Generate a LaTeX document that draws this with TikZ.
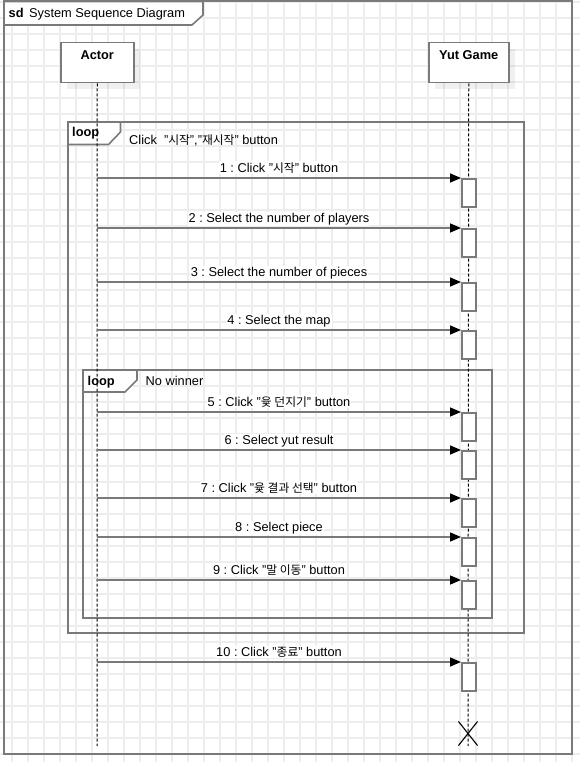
\documentclass[tikz,border=0pt]{standalone}
\usepackage{fontspec}
\setmainfont{Liberation Sans}
\newfontfamily\krfont[Scale=0.92]{Noto Sans CJK KR}
\newcommand{\hg}[1]{{\krfont #1}}
\usetikzlibrary{positioning, arrows.meta, calc, shapes.misc, shadows}
\definecolor{linegray}{HTML}{7A7A7A}
\definecolor{gridgray}{HTML}{EDEDED}
\frenchspacing

\begin{document}
\begin{tikzpicture}[x=1pt, y=-1pt, font=\fontsize{12.8}{15}\selectfont,
    > = {Triangle[length=11pt, width=9pt, color=black]},
    gridline/.style={draw=gridgray, line width=1.3pt},
    frameline/.style={draw=linegray, line width=1.6pt},
    tagbox/.style={frameline, fill=white},
    headbox/.style={draw=linegray, line width=1.5pt, fill=white, minimum height=40pt, inner sep=4pt,
        text height=13pt, text depth=19pt, font=\fontsize{12.8}{15}\selectfont\bfseries, anchor=north west,
        drop shadow={shadow xshift=6pt, shadow yshift=-6pt, fill=black, opacity=0.06}},
    lifeline/.style={draw=black, line width=1pt, dash pattern=on 3pt off 2pt},
    actbox/.style={draw=linegray, line width=1.5pt, fill=white, minimum width=14pt, minimum height=28pt, inner sep=0pt, anchor=north west},
    msg/.style={draw=linegray, line width=1.5pt, ->},
    msglabel/.style={midway, anchor=base, yshift=6pt, fill=white, inner sep=1pt},
    tagtext/.style={anchor=base west, inner sep=0pt},
    destroy/.style={cross out, draw=black, line width=1.1pt, minimum width=18pt, minimum height=23pt, inner sep=0pt}]
  \useasboundingbox (0,0) rectangle (580,762);
  % background grid
  \foreach \gx in {12,28,...,572} \draw[gridline] (\gx,0) -- (\gx,762);
  \foreach \gy in {2,18,...,754} \draw[gridline] (0,\gy) -- (580,\gy);

  % sd frame
  \draw[frameline, line width=2pt] (4,1.5) rectangle (572,754);
  \draw[tagbox] (4,1.5) -- (203,1.5) -- (203,15) -- (192,25) -- (4,25) -- cycle;
  \node[tagtext, font=\fontsize{12.8}{15}\selectfont\bfseries] (sdtag) at (8.5,17.5) {sd};
  \node[tagtext] (sdtitle) at (29,17.5) {System Sequence Diagram};

  % heads
  \node[headbox, minimum width=73pt] (actor) at (60,42) {Actor};
  \node[headbox, minimum width=80pt] (yut) at (428,42) {Yut Game};

  % loops
  \draw[frameline] (68,122) rectangle (524,633);
  \draw[tagbox] (68,122) -- (120.5,122) -- (120.5,132) -- (108.5,144.5) -- (68,144.5) -- cycle;
  \node[tagtext, font=\fontsize{12.8}{15}\selectfont\bfseries] (looptagA) at (72,137) {loop};
  \node[tagtext] (loopcondA) at (129,144.5) {Click\ \ "\hg{시작}","\hg{재시작}" button};
  \draw[frameline] (83,370) rectangle (492,618);
  \draw[tagbox] (83,370) -- (137,370) -- (137,380) -- (125,392) -- (83,392) -- cycle;
  \node[tagtext, font=\fontsize{12.8}{15}\selectfont\bfseries] (looptagB) at (87.5,385.5) {loop};
  \node[tagtext] (loopcondB) at (145.5,385.5) {No winner};

  % lifelines
  \coordinate (actorend) at (97,746);
  \coordinate (yutend) at (468,746);
  \draw[lifeline] (actor.south) -- (actorend);
  \draw[lifeline] (yut.south) -- (yutend);
  \node[destroy] (yutx) at (468,733.5) {};

  % activations
  \node[actbox] (act1) at (461,178) {};
  \node[actbox] (act2) at (461,228) {};
  \node[actbox] (act3) at (461,282) {};
  \node[actbox] (act4) at (461,330) {};
  \node[actbox] (act5) at (461,412) {};
  \node[actbox] (act6) at (461,450) {};
  \node[actbox] (act7) at (461,498) {};
  \node[actbox] (act8) at (461,537) {};
  \node[actbox] (act9) at (461,580) {};
  \node[actbox] (act10) at (461,662) {};

  % messages
  \coordinate (m1) at (97,178);
  \coordinate (m2) at (97,228);
  \coordinate (m3) at (97,282);
  \coordinate (m4) at (97,330);
  \coordinate (m5) at (97,412);
  \coordinate (m6) at (97,450);
  \coordinate (m7) at (97,498);
  \coordinate (m8) at (97,537);
  \coordinate (m9) at (97,580);
  \coordinate (m10) at (97,662);
  \draw[msg] (m1) -- (act1.north west) node[msglabel] {1 : Click "\hg{시작}" button};
  \draw[msg] (m2) -- (act2.north west) node[msglabel] {2 : Select the number of players};
  \draw[msg] (m3) -- (act3.north west) node[msglabel] {3 : Select the number of pieces};
  \draw[msg] (m4) -- (act4.north west) node[msglabel] {4 : Select the map};
  \draw[msg] (m5) -- (act5.north west) node[msglabel] {5 : Click "\hg{윷 던지기}" button};
  \draw[msg] (m6) -- (act6.north west) node[msglabel] {6 : Select yut result};
  \draw[msg] (m7) -- (act7.north west) node[msglabel] {7 : Click "\hg{윷 결과 선택}" button};
  \draw[msg] (m8) -- (act8.north west) node[msglabel] {8 : Select piece};
  \draw[msg] (m9) -- (act9.north west) node[msglabel] {9 : Click "\hg{말 이동}" button};
  \draw[msg] (m10) -- (act10.north west) node[msglabel] {10 : Click "\hg{종료}" button};
\end{tikzpicture}
\end{document}
